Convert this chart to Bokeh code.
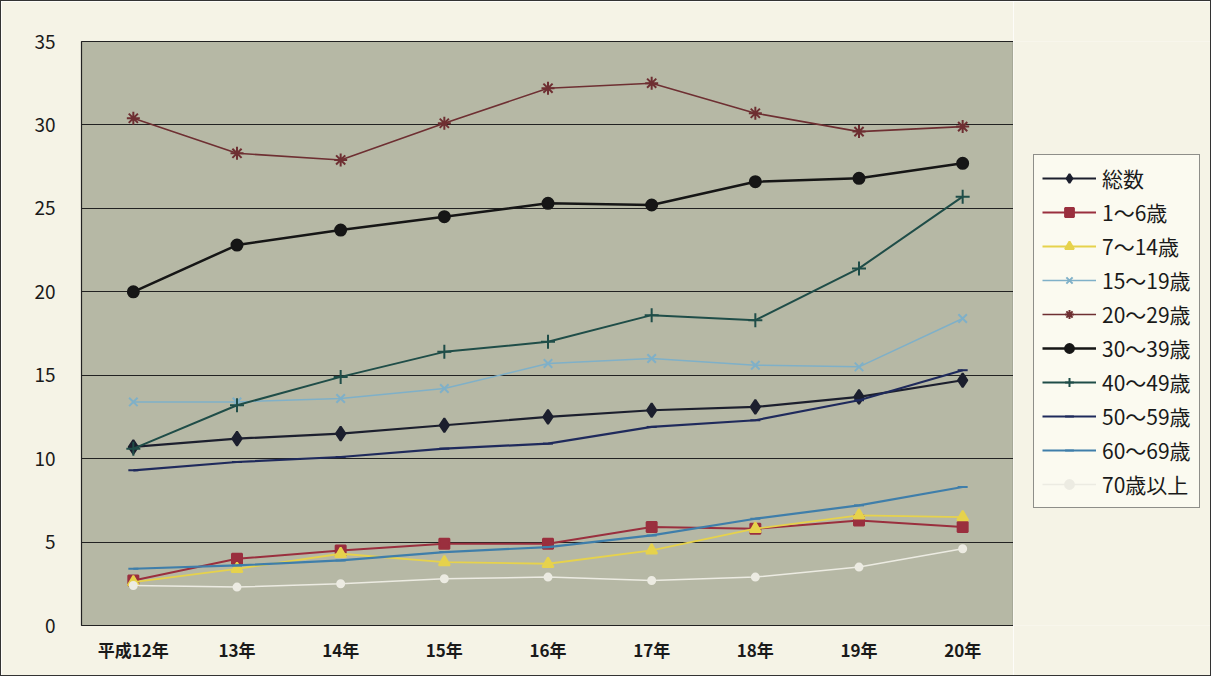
from bokeh.plotting import figure
from bokeh.models import Legend, LegendItem, FixedTicker, ColumnDataSource
from bokeh.layouts import row
from bokeh.embed import file_html
from bokeh.resources import INLINE

years = ["平成12年", "13年", "14年", "15年", "16年", "17年", "18年", "19年", "20年"]

total     = [10.7, 11.2, 11.5, 12.0, 12.5, 12.9, 13.1, 13.7, 14.7]
age_1_6   = [2.7, 4.0, 4.5, 4.9, 4.9, 5.9, 5.8, 6.3, 5.9]
age_7_14  = [2.6, 3.4, 4.3, 3.8, 3.7, 4.5, 5.8, 6.6, 6.5]
age_15_19 = [13.4, 13.4, 13.6, 14.2, 15.7, 16.0, 15.6, 15.5, 18.4]
age_20_29 = [30.4, 28.3, 27.9, 30.1, 32.2, 32.5, 30.7, 29.6, 29.9]
age_30_39 = [20.0, 22.8, 23.7, 24.5, 25.3, 25.2, 26.6, 26.8, 27.7]
age_40_49 = [10.6, 13.2, 14.9, 16.4, 17.0, 18.6, 18.3, 21.4, 25.7]
age_50_59 = [9.3, 9.8, 10.1, 10.6, 10.9, 11.9, 12.3, 13.5, 15.3]
age_60_69 = [3.4, 3.6, 3.9, 4.4, 4.7, 5.4, 6.4, 7.2, 8.3]
age_70    = [2.4, 2.3, 2.5, 2.8, 2.9, 2.7, 2.9, 3.5, 4.6]

labels = ["総数", "1～6歳", "7～14歳", "15～19歳", "20～29歳", "30～39歳",
          "40～49歳", "50～59歳", "60～69歳", "70歳以上"]
y_ticks = [0, 5, 10, 15, 20, 25, 30, 35]

series = [total, age_1_6, age_7_14, age_15_19, age_20_29, age_30_39,
          age_40_49, age_50_59, age_60_69, age_70]
styles = [
    dict(color="#1c1f2e", marker="diamond", size=14, lw=2.2),
    dict(color="#9a2f3e", marker="square", size=10, lw=2.0),
    dict(color="#e6d24c", marker="triangle", size=11, lw=1.8),
    dict(color="#7fb0c8", marker="x", size=12, lw=1.5),
    dict(color="#6e2f32", marker="asterisk", size=13, lw=1.6),
    dict(color="#161616", marker="circle", size=11, lw=2.5),
    dict(color="#1f4d48", marker="cross", size=14, lw=2.0),
    dict(color="#1f2a5c", marker="dash", size=10, lw=2.2),
    dict(color="#3f7eaa", marker="dash", size=10, lw=2.2),
    dict(color="#ecebe2", marker="circle", size=7, lw=1.5),
]

FONT = "Noto Sans CJK JP"
CREAM = "#f5f3e6"
H = 676

p = figure(width=1013, height=H, x_range=years, y_range=(0, 35),
           output_backend="svg", toolbar_location=None,
           min_border_left=80, min_border_right=0,
           min_border_top=40, min_border_bottom=52)

p.background_fill_color = "#b6b8a5"
p.border_fill_color = CREAM
p.outline_line_color = "#222222"
p.outline_line_width = 1.2
p.styles = {"border-left": "1px solid #333333", "border-top": "1px solid #333333",
            "border-bottom": "1px solid #333333"}

p.x_range.range_padding = 0
p.xgrid.grid_line_color = None
p.ygrid.grid_line_color = "#222222"
p.ygrid.grid_line_width = 1
p.yaxis.ticker = FixedTicker(ticks=y_ticks)

for ax in (p.xaxis[0], p.yaxis[0]):
    ax.axis_line_color = None
    ax.major_tick_line_color = None
    ax.minor_tick_line_color = None
    ax.major_label_text_font = FONT
    ax.major_label_text_color = "#1a1a1a"
p.yaxis.major_label_text_font_size = "19px"
p.yaxis.major_label_standoff = 20
p.xaxis.major_label_text_font_size = "17px"
p.xaxis.major_label_text_font_style = "bold"
p.xaxis.major_label_standoff = 5

# legend-only figure (same glyph styles, data kept out of its visible range)
q = figure(width=198, height=H, x_range=years, y_range=(1000, 1001),
           output_backend="svg", toolbar_location=None,
           x_axis_location=None, y_axis_location=None,
           min_border_left=0, min_border_right=0,
           min_border_top=0, min_border_bottom=0)
q.background_fill_color = CREAM
q.border_fill_color = CREAM
q.outline_line_color = None
q.grid.visible = False
q.styles = {"border-right": "1px solid #333333", "border-top": "1px solid #333333",
            "border-bottom": "1px solid #333333"}

items = []
for lab, vals, st in zip(labels, series, styles):
    src = ColumnDataSource(dict(x=years, y=vals))
    p.line("x", "y", source=src, line_color=st["color"], line_width=st["lw"])
    p.scatter("x", "y", source=src, marker=st["marker"], size=st["size"],
              fill_color=st["color"], line_color=st["color"], line_width=2)
    r1 = q.line("x", "y", source=src, line_color=st["color"], line_width=st["lw"])
    r2 = q.scatter("x", "y", source=src, marker=st["marker"], size=st["size"],
                   fill_color=st["color"], line_color=st["color"], line_width=2)
    items.append(LegendItem(label=lab, renderers=[r1, r2]))

legend = Legend(items=items, location=(20, 117))
legend.background_fill_color = "#fbfaf0"
legend.background_fill_alpha = 1
legend.border_line_color = "#222222"
legend.border_line_width = 1.2
legend.label_text_font = FONT
legend.label_text_font_size = "21px"
legend.label_text_color = "#1a1a1a"
legend.glyph_width = 54
legend.glyph_height = 22
legend.label_height = 22
legend.spacing = 4
legend.padding = 8
legend.margin = 0
legend.label_standoff = 6
q.add_layout(legend, "center")

layout = row(p, q)

open("out.html", "w").write(file_html(layout, INLINE))
